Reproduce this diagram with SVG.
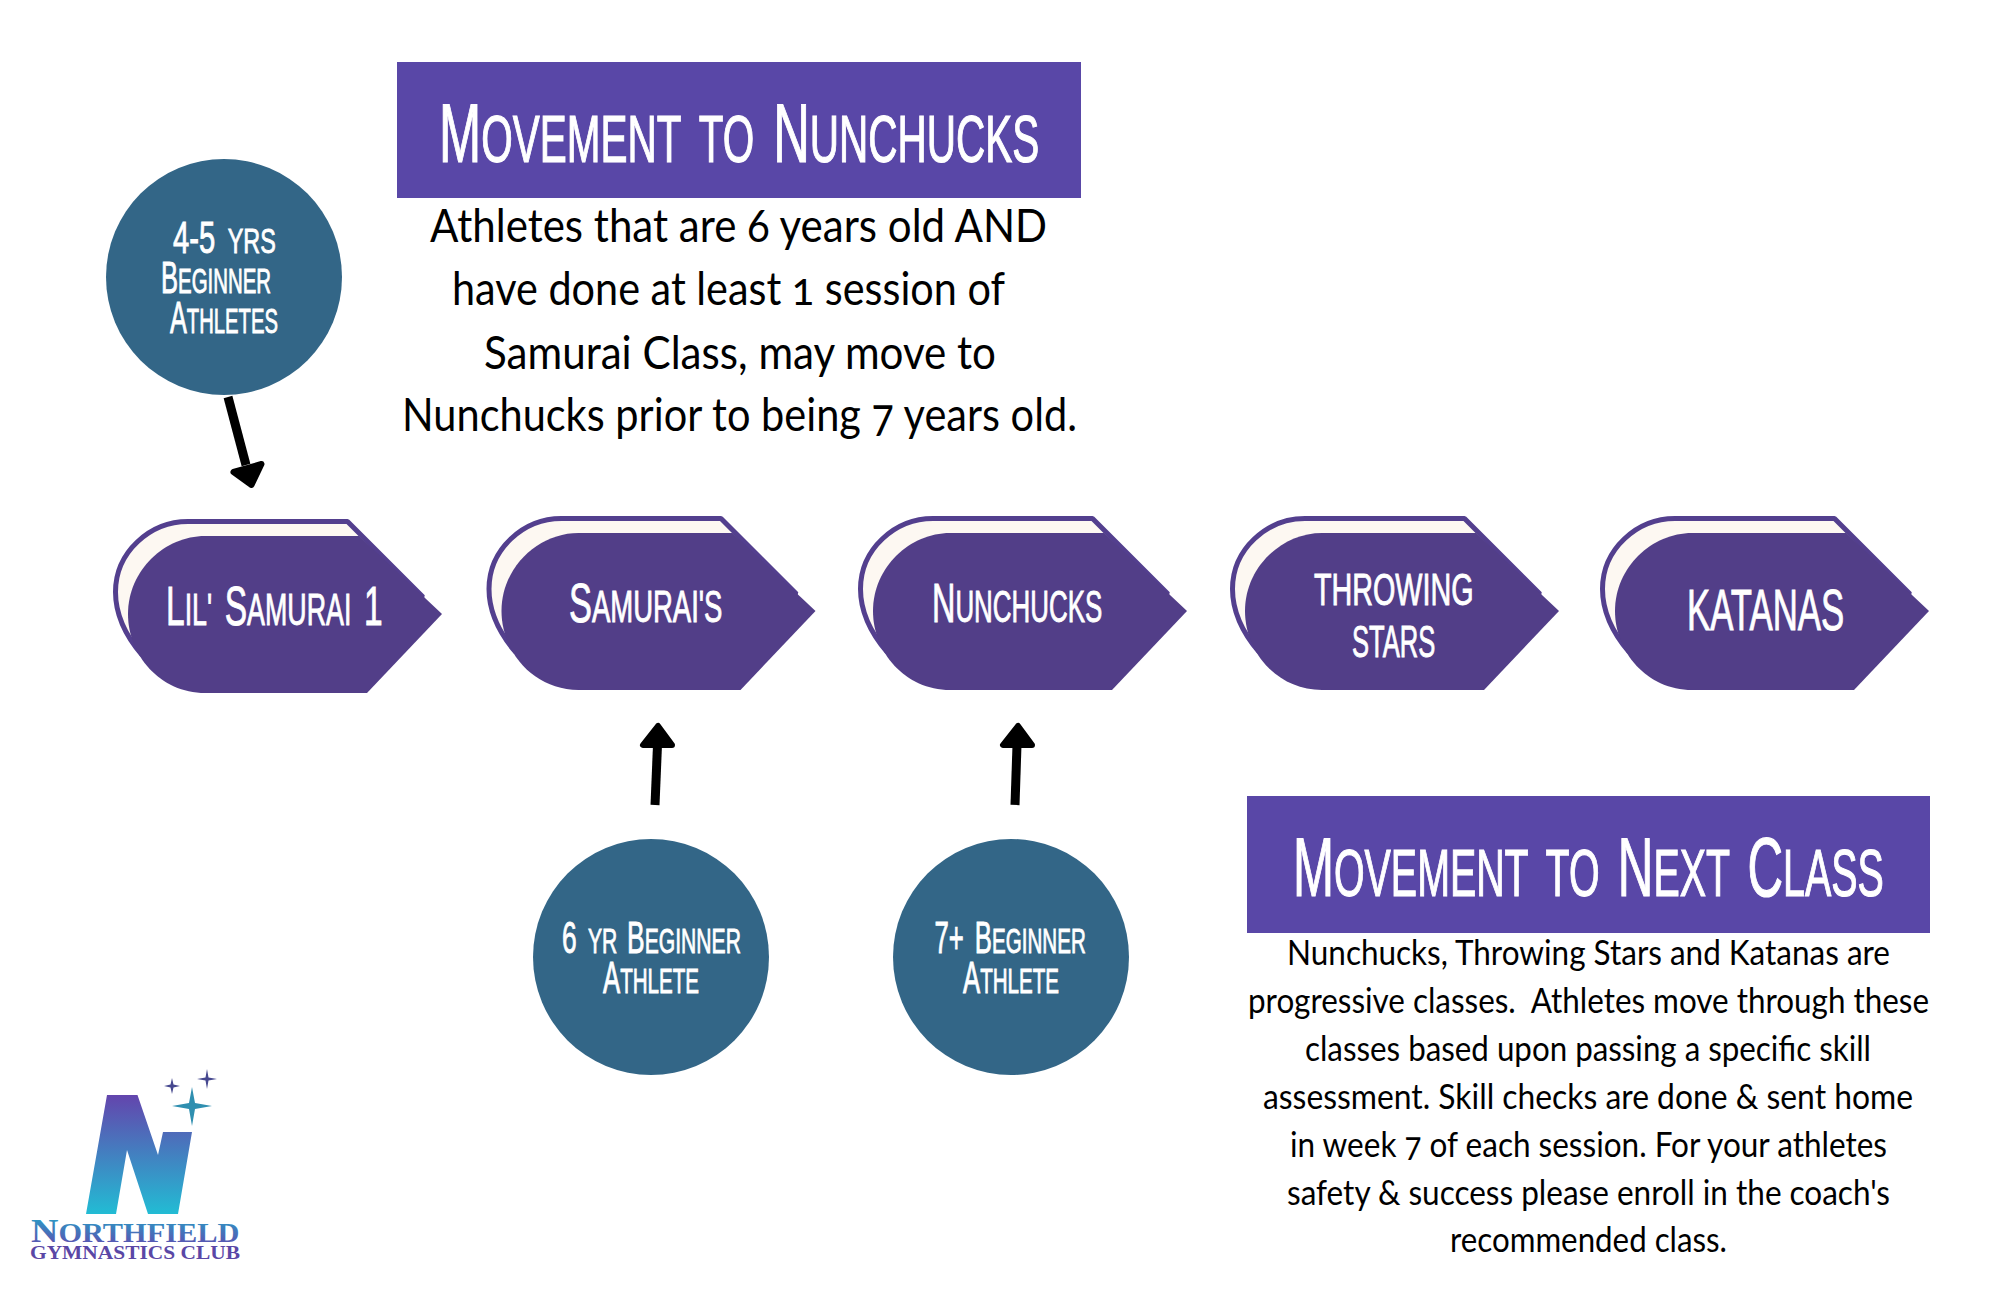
<svg xmlns="http://www.w3.org/2000/svg" width="2000" height="1294" viewBox="0 0 2000 1294">
<style>
.d{font-family:"Liberation Sans Narrow","Liberation Sans",sans-serif;fill:#fff;stroke:#fff;stroke-width:.9px;word-spacing:.15em}
.s{font-size:.8em;text-transform:uppercase}
.t{font-size:83px;stroke-width:1.2px}.l{font-size:55px}.c{font-size:44px}
.b{font-family:Lato,"Open Sans",sans-serif;fill:#000;font-variant-numeric:oldstyle-nums}
.b1{font-size:46px}.b2{font-size:35px}
.hdr{fill:#5947a7}.cir{fill:#336687}
.back{fill:#fdf8f2;stroke:#533f8e;stroke-width:5;stroke-linejoin:bevel}
.front{fill:#523e88}
.shaft{fill:none;stroke:#000;stroke-width:9}
.head{fill:#000;stroke:#000;stroke-width:6;stroke-linejoin:round}
</style>
<defs>
<g id="pent">
<path class="back" d="M188,521.500H347.500L423,597L300,640L142,655C125,635 115.500,615 115.500,592C115.500,552 150,521.500 188,521.500Z"/>
<path class="front" d="M205,536H359L442,614L367,693H205C160,693 128,655 128,614C128,570 165,536 205,536Z"/>
</g>
<linearGradient id="ng" x1="0" y1="0" x2="0" y2="1"><stop offset="0" stop-color="#6345ad"/><stop offset="1" stop-color="#22bcd4"/></linearGradient>
<linearGradient id="tg" x1="0" y1="0" x2="0" y2="1"><stop offset="0" stop-color="#22a9c9"/><stop offset="1" stop-color="#6345ad"/></linearGradient>
</defs>
<rect width="2000" height="1294" fill="#fff"/>

<g id="header-nunchucks">
<rect class="hdr" x="397" y="62" width="684" height="136"/>
<text class="d t" transform="translate(439,162) scale(.61,1)">M<tspan class="s">ovement to </tspan>N<tspan class="s">unchucks</tspan></text>
</g>
<g id="text-nunchucks" class="b b1">
<text x="430" y="242" textLength="617" lengthAdjust="spacingAndGlyphs">Athletes that are 6 years old AND</text>
<text x="452" y="305" textLength="553" lengthAdjust="spacingAndGlyphs">have done at least 1 session of</text>
<text x="484" y="369" textLength="512" lengthAdjust="spacingAndGlyphs">Samurai Class, may move to</text>
<text x="402" y="431" textLength="675" lengthAdjust="spacingAndGlyphs">Nunchucks prior to being 7 years old.</text>
</g>

<g id="header-next">
<rect class="hdr" x="1247" y="796" width="683" height="137"/>
<text class="d t" transform="translate(1293,896) scale(.593,1)">M<tspan class="s">ovement to </tspan>N<tspan class="s">ext </tspan>C<tspan class="s">lass</tspan></text>
</g>
<g id="text-next" class="b b2">
<text x="1287" y="965" textLength="603" lengthAdjust="spacingAndGlyphs">Nunchucks, Throwing Stars and Katanas are</text>
<text x="1248" y="1013" textLength="681" lengthAdjust="spacingAndGlyphs" xml:space="preserve">progressive classes.  Athletes move through these</text>
<text x="1305" y="1061" textLength="566" lengthAdjust="spacingAndGlyphs">classes based upon passing a specific skill</text>
<text x="1263" y="1109" textLength="650" lengthAdjust="spacingAndGlyphs">assessment. Skill checks are done &amp; sent home</text>
<text x="1290" y="1157" textLength="597" lengthAdjust="spacingAndGlyphs">in week 7 of each session. For your athletes</text>
<text x="1287" y="1205" textLength="603" lengthAdjust="spacingAndGlyphs">safety &amp; success please enroll in the coach's</text>
<text x="1450" y="1252" textLength="277" lengthAdjust="spacingAndGlyphs">recommended class.</text>
</g>

<g id="node-lil-samurai">
<use href="#pent"/>
<text class="d l" transform="translate(166,625) scale(.61,1)">L<tspan class="s">il' </tspan>S<tspan class="s">amurai </tspan>1</text>
</g>
<g id="node-samurais">
<use href="#pent" transform="translate(373.500,-3)"/>
<text class="d l" transform="translate(569,622) scale(.625,1)">S<tspan class="s">amurai's</tspan></text>
</g>
<g id="node-nunchucks">
<use href="#pent" transform="translate(745,-3)"/>
<text class="d l" transform="translate(932,622) scale(.589,1)">N<tspan class="s">unchucks</tspan></text>
</g>
<g id="node-throwing-stars">
<use href="#pent" transform="translate(1117,-3)"/>
<text class="d c" transform="translate(1314,605) scale(.653,1)">THROWING</text>
<text class="d c" transform="translate(1352,657) scale(.581,1)">STARS</text>
</g>
<g id="node-katanas">
<use href="#pent" transform="translate(1487,-3)"/>
<text class="d" font-size="57" transform="translate(1687,630) scale(.61,1)">KATANAS</text>
</g>

<g id="node-4-5-yrs">
<circle class="cir" cx="224" cy="277" r="118"/>
<text class="d c" transform="translate(173,253) scale(.664,1)">4-5 <tspan class="s">yrs</tspan></text>
<text class="d c" transform="translate(161,293) scale(.58,1)">B<tspan class="s">eginner</tspan></text>
<text class="d c" transform="translate(170,333) scale(.575,1)">A<tspan class="s">thletes</tspan></text>
</g>
<g id="node-6-yr">
<circle class="cir" cx="651" cy="957" r="118"/>
<text class="d c" transform="translate(562,953) scale(.6,1)">6 <tspan class="s">yr </tspan>B<tspan class="s">eginner</tspan></text>
<text class="d c" transform="translate(603,993) scale(.585,1)">A<tspan class="s">thlete</tspan></text>
</g>
<g id="node-7-plus">
<circle class="cir" cx="1011" cy="957" r="118"/>
<text class="d c" transform="translate(934.500,953) scale(.585,1)">7+ B<tspan class="s">eginner</tspan></text>
<text class="d c" transform="translate(963,993) scale(.585,1)">A<tspan class="s">thlete</tspan></text>
</g>

<g id="connectors">
<path class="shaft" d="M228,397L246,465"/>
<path class="head" d="M233.500,472L261.500,464L251.500,485Z"/>
<path class="shaft" d="M655,805L657.500,745"/>
<path class="head" d="M643,745H672L658,726Z"/>
<path class="shaft" d="M1015,805L1017,745"/>
<path class="head" d="M1003,745H1032L1018,726Z"/>
</g>

<g id="logo">
<path fill="url(#ng)" d="M107,1095H137.500L158,1155L163,1132H192L178,1214H148L127,1150L116,1214H86Z"/>
<path fill="#2f8fb0" d="M192,1087L195,1103L212,1106L195,1109L192,1126L189,1109L172,1106L189,1103Z"/>
<path fill="#46488f" d="M172,1078L173.500,1084.500L180,1086L173.500,1087.500L172,1094L170.500,1087.500L164,1086L170.500,1084.500Z"/>
<path fill="#46488f" d="M207,1069L208.500,1077.500L217,1079L208.500,1080.500L207,1089L205.500,1080.500L197,1079L205.500,1077.500Z"/>
<text fill="url(#tg)" font-family="Liberation Serif,serif" font-weight="bold" font-size="33" transform="translate(31,1242) scale(1.15,1)">N<tspan class="s">orthfield</tspan></text>
<text x="30" y="1259" fill="#5a47a6" font-family="Liberation Serif,serif" font-weight="bold" font-size="18" textLength="210" lengthAdjust="spacingAndGlyphs">GYMNASTICS CLUB</text>
</g>
</svg>
